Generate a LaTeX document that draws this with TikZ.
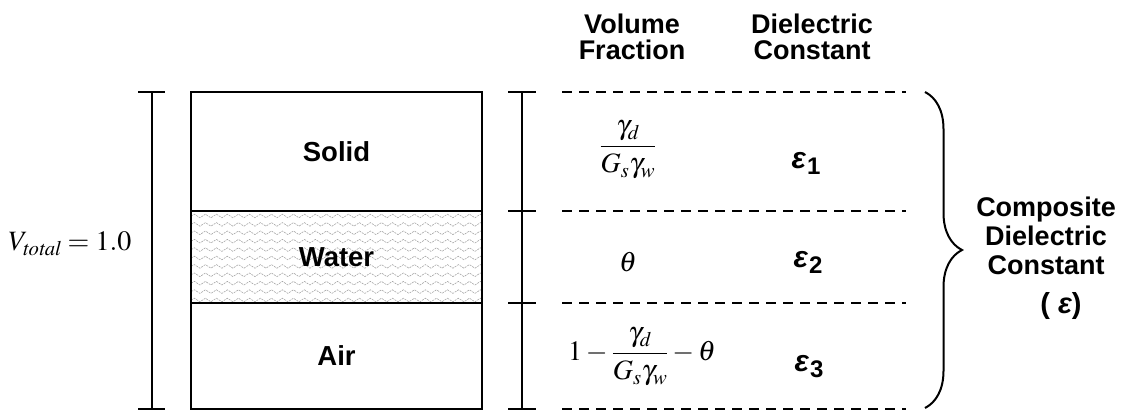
\documentclass[tikz,border=0pt]{standalone}
\usepackage{amsmath}
\usepackage{mathptmx}
\usepackage[no-math]{fontspec}
\setmainfont{Liberation Sans}
\usetikzlibrary{positioning,decorations.pathreplacing,decorations.pathmorphing,calc}

\newcommand{\epsn}[1]{{\itshape ε}\kern1pt\raisebox{-6pt}{\fontsize{24}{25}\selectfont #1}}

\begin{document}
\begin{tikzpicture}[
    x=1pt, y=-1pt,
    layer/.style={rectangle, draw, line width=2pt, minimum width=291pt, inner sep=0pt, outer sep=0pt, font=\fontsize{27.5}{30}\selectfont\bfseries},
    wet/.style={path picture={
        \foreach \r in {0,...,10}
          \draw[gray!70, line width=0.6pt, dash pattern=on 2pt off 1pt, decorate, decoration={snake, segment length=11pt, amplitude=1.8pt}]
            ([yshift={-(5+8.4*\r)*1pt}]path picture bounding box.north west) -- ++(300pt,0pt);}},
    dimline/.style={line width=1.5pt},
    sepline/.style={line width=2pt, dash pattern=on 10pt off 7pt},
    head/.style={align=center, font=\fontsize{27}{26}\selectfont\bfseries},
    fracmath/.style={font=\fontsize{28}{30}\selectfont},
    epsval/.style={font=\fontsize{30}{32}\selectfont\bfseries}
]
\useasboundingbox (0,0) rectangle (1125,411);

% soil layers
\node (solid) [layer, minimum height=119pt] at (336.5,151.5) {Solid};
\node (water) [layer, wet, minimum height=92pt, below=0pt of solid] {Water};
\node (air) [layer, minimum height=106pt, below=0pt of water] {Air};

% total volume
\coordinate (lt) at (152,92);
\coordinate (lb) at (152,409);
\draw[dimline] (lt) -- (lb);
\draw[dimline] ([xshift=-14pt]lt) -- ([xshift=13pt]lt);
\draw[dimline] ([xshift=-14pt]lb) -- ([xshift=13pt]lb);
\node (vtot) at (70,243.5) {\fontsize{28}{30}\selectfont $V_{\mathit{total}} = 1.0$};

% right dimension and separators
\coordinate (rt) at (522,92);
\coordinate (rb) at (522,409);
\draw[dimline] (rt) -- (rb);
\foreach \n/\yy in {a/92,b/211,c/303,d/409} {
  \coordinate (t\n) at (522,\yy);
  \draw[dimline] ([xshift=-14pt]t\n) -- ([xshift=14pt]t\n);
  \coordinate (s\n l) at (562,\yy);
  \coordinate (s\n r) at (906,\yy);
  \draw[sepline] (s\n l) -- (s\n r);
}

% column heads
\node (hvol) [head] at (632,36.5) {Volume\\Fraction};
\node (hdiel) [head] at (812,36.5) {Dielectric\\Constant};

% volume fractions
\node (f1) [fracmath] at (628,150) {$\dfrac{\gamma_d}{G_s\gamma_w}$};
\node (f2) [fracmath] at (628,262) {$\theta$};
\node (f3) [fracmath] at (642,357) {$1-\dfrac{\gamma_d}{G_s\gamma_w}-\theta$};

% dielectric constants
\node (e1) [epsval] at (806,163) {\epsn{1}};
\node (e2) [epsval] at (808,262) {\epsn{2}};
\node (e3) [epsval] at (809,367) {\epsn{3}};

% composite
\coordinate (bt) at (925,92);
\coordinate (bb) at (925,408);
\draw[line width=2pt, decorate, decoration={brace, amplitude=37pt}] (bt) -- (bb);
\node (comp) [head, font=\fontsize{27}{29}\selectfont\bfseries] at (1046,235.5) {Composite\\Dielectric\\Constant};
\node (ceps) [head, font=\fontsize{29}{30}\selectfont\bfseries] at (1061,306) {( {\itshape ε})};

\end{tikzpicture}
\end{document}
